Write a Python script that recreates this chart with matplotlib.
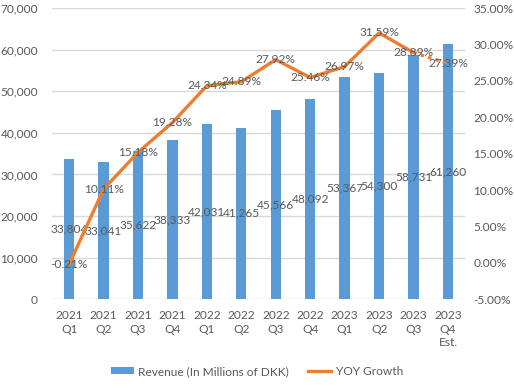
import matplotlib
matplotlib.use("Agg")
import matplotlib.pyplot as plt
from matplotlib.ticker import FuncFormatter, MultipleLocator
from matplotlib.lines import Line2D
from matplotlib.patches import Patch

categories = ["2021\nQ1", "2021\nQ2", "2021\nQ3", "2021\nQ4", "2022\nQ1", "2022\nQ2",
              "2022\nQ3", "2022\nQ4", "2023\nQ1", "2023\nQ2", "2023\nQ3", "2023\nQ4\nEst."]
revenue = [33804, 33041, 35622, 38333, 42031, 41265, 45566, 48092, 53367, 54300, 58731, 61260]
yoy_growth = [-0.21, 10.11, 15.18, 19.28, 24.34, 24.89, 27.92, 25.46, 26.97, 31.59, 28.89, 27.39]

BAR = "#5B9BD5"
LINE = "#ED7D31"
TXT = "#595959"
GRID = "#D9D9D9"
plt.rcParams['font.family'] = ['Lato', 'DejaVu Sans']
FS = 8.6

fig = plt.figure(figsize=(5.14, 3.88), dpi=100)
ax = fig.add_axes([0.101, 0.229, 0.804, 0.750])
x = list(range(len(categories)))
ax.bar(x, revenue, width=0.30, color=BAR, zorder=2)
ax.set_xlim(-0.5, len(categories) - 0.5)
ax.set_ylim(0, 70000)
ax.yaxis.set_major_locator(MultipleLocator(10000))
ax.yaxis.set_major_formatter(FuncFormatter(lambda v, p: f"{v:,.0f}"))
ax.grid(axis='y', color=GRID, linewidth=1.0, zorder=0)
ax.set_axisbelow(True)
for s in ax.spines.values():
    s.set_visible(False)
ax.set_xticks(x)
ax.set_xticklabels(categories, fontsize=FS, color=TXT, linespacing=1.25)
ax.tick_params(axis='both', length=0, labelsize=FS, colors=TXT)
ax.tick_params(axis='x', pad=8)
ax.tick_params(axis='y', pad=10)
for xi, v in zip(x, revenue):
    ax.text(xi, v / 2, f"{v:,.0f}", ha='center', va='center', fontsize=FS, color=TXT, zorder=5)

ax2 = ax.twinx()
ax2.set_ylim(-5, 35)
ax2.yaxis.set_major_locator(MultipleLocator(5))
ax2.yaxis.set_major_formatter(FuncFormatter(lambda v, p: f"{v:.2f}%"))
ax2.tick_params(axis='y', length=0, labelsize=FS, colors=TXT, pad=6)
for s in ax2.spines.values():
    s.set_visible(False)
ax2.plot(x[:-1], yoy_growth[:-1], color=LINE, linewidth=2.4, solid_capstyle='round', zorder=3)
ax2.plot(x[-2:], yoy_growth[-2:], color=LINE, linewidth=2.4, linestyle=(0, (1, 1.3)), zorder=3)
for xi, v in zip(x, yoy_growth):
    ax2.text(xi, v, f"{v:.2f}%", ha='center', va='center', fontsize=FS, color=TXT, zorder=5)

handles = [Patch(facecolor=BAR, edgecolor='none'),
           Line2D([0], [0], color=LINE, linewidth=2.4)]
fig.legend(handles, ["Revenue (In Millions of DKK)", "YOY Growth"], loc='center',
           bbox_to_anchor=(0.5, 0.043), ncol=2, frameon=False, fontsize=FS,
           labelcolor=TXT, handlelength=1.9, handleheight=0.55, columnspacing=1.6,
           handletextpad=0.4)

fig.savefig("out.png", dpi=100)
